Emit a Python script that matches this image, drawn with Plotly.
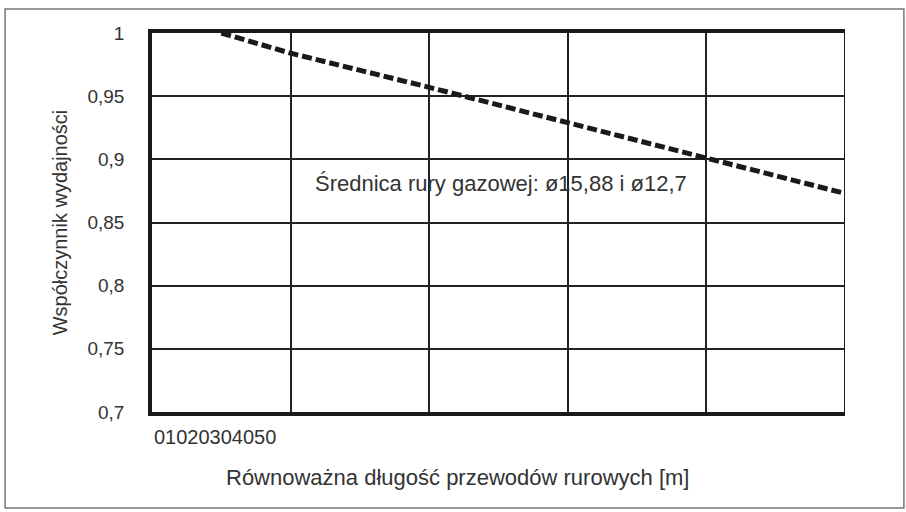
import plotly.graph_objects as go

# equivalent pipe length [m] and capacity coefficient
pipe_length = [5, 10, 20, 30, 40, 50]
capacity_factor = [1.0, 0.984, 0.957, 0.929, 0.9, 0.873]

y_ticks = [0.7, 0.75, 0.8, 0.85, 0.9, 0.95, 1.0]
x_grid = [0, 10, 20, 30, 40, 50]
x_tick_text = "".join(str(v) for v in x_grid)

curve_label = "Średnica rury gazowej: ø15,88 i ø12,7"
x_title = "Równoważna długość przewodów rurowych [m]"
y_title = "Współczynnik wydajności"

FONT = "Liberation Sans, Arial, sans-serif"
TEXT = "#333333"

fig = go.Figure()
fig.add_trace(go.Scatter(
    x=pipe_length, y=capacity_factor, mode="lines",
    line=dict(color="#1a1a1a", width=5, dash="10px,4px"),
    showlegend=False, hoverinfo="skip",
))

fig.update_layout(
    width=906, height=512,
    margin=dict(l=152, r=61, t=33, b=100),
    paper_bgcolor="white", plot_bgcolor="white",
    separators=", ",
    font=dict(family=FONT, color=TEXT, size=19),
    showlegend=False,
)

fig.update_xaxes(
    range=[0, 50], tickvals=x_grid, showticklabels=False,
    showgrid=True, gridcolor="#222222", gridwidth=1.6,
    showline=True, linecolor="#1a1a1a", linewidth=3.5, mirror=True,
    zeroline=False, ticks="",
)
fig.update_yaxes(
    range=[0.7, 1.0], tickvals=y_ticks,
    showgrid=True, gridcolor="#222222", gridwidth=1.6,
    showline=True, linecolor="#1a1a1a", linewidth=3.5, mirror=False,
    zeroline=False, ticks="", ticklabelstandoff=20,
    tickfont=dict(size=19, color=TEXT),
)

# thinner right border of the plot area
fig.add_shape(type="line", xref="x", yref="paper", x0=50, x1=50, y0=0, y1=1,
              line=dict(color="#1a1a1a", width=2))

# outer frame around the whole picture
fig.add_shape(type="rect", xref="paper", yref="paper",
              x0=-0.212, x1=1.085, y0=-0.253, y1=1.063,
              line=dict(color="#777777", width=1.5))

fig.add_annotation(x=11.6, y=0.881, xref="x", yref="y", text=curve_label,
                   showarrow=False, xanchor="left", yanchor="middle",
                   font=dict(size=22, color=TEXT))
fig.add_annotation(x=0, y=-0.066, xref="paper", yref="paper", text=x_tick_text,
                   showarrow=False, xanchor="left", yanchor="middle",
                   font=dict(size=20, color=TEXT))
fig.add_annotation(x=0.441, y=-0.174, xref="paper", yref="paper", text=x_title,
                   showarrow=False, xanchor="center", yanchor="middle",
                   font=dict(size=22, color=TEXT))
fig.add_annotation(x=-0.133, y=0.5, xref="paper", yref="paper", text=y_title,
                   showarrow=False, textangle=-90, xanchor="center", yanchor="middle",
                   font=dict(size=20, color=TEXT))

# drop the default page margin so the figure sits at the window corner
fig.write_html("out.html", config={"displayModeBar": False},
               post_script="document.body.style.margin='0';")
